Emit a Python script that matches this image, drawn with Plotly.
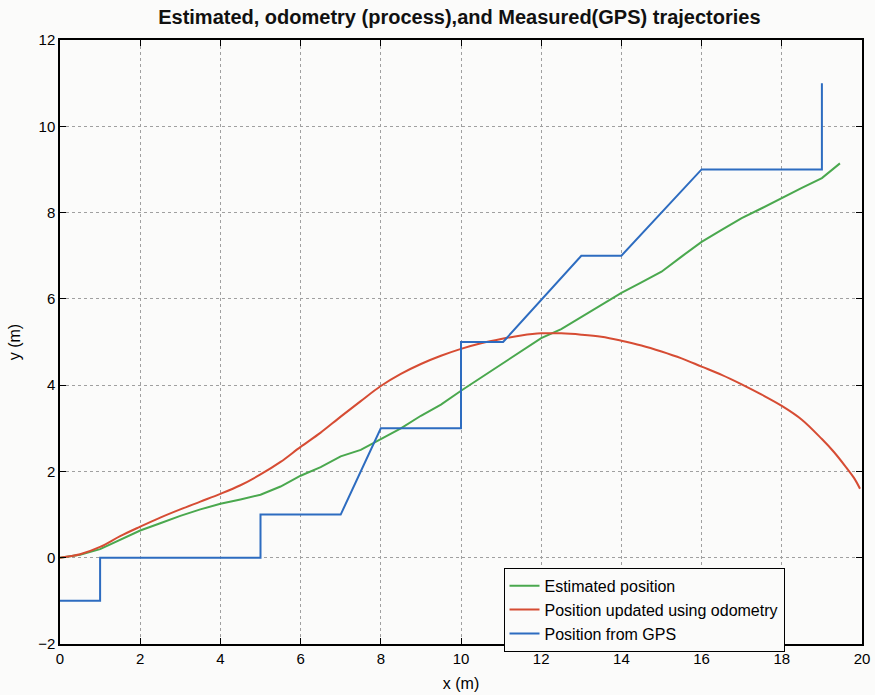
import plotly.graph_objects as go

# Estimated position (green)
est_x = [0, 0.5, 1, 1.5, 2, 2.5, 3, 3.5, 4, 4.5, 5, 5.5, 6, 6.5, 7, 7.5, 8, 8.5, 9, 9.5, 10, 10.5, 11, 11.5, 12, 12.5, 13, 13.5, 14, 14.5, 15, 15.5, 16, 16.5, 17, 17.5, 18, 18.5, 19, 19.2, 19.45]
est_y = [0, 0.07, 0.2, 0.42, 0.63, 0.8, 0.97, 1.12, 1.25, 1.35, 1.46, 1.65, 1.9, 2.1, 2.35, 2.5, 2.75, 3.0, 3.29, 3.55, 3.87, 4.17, 4.49, 4.78, 5.09, 5.3, 5.58, 5.87, 6.14, 6.38, 6.63, 6.98, 7.32, 7.6, 7.87, 8.1, 8.34, 8.57, 8.8, 8.95, 9.14]

# Position updated using odometry (red)
odo_x = [0, 0.5, 1, 1.5, 2, 2.5, 3, 3.5, 4, 4.5, 5, 5.5, 6, 6.5, 7, 7.5, 8, 8.5, 9, 9.5, 10, 10.5, 11, 11.5, 12, 12.5, 13, 13.5, 14, 14.5, 15, 15.5, 16, 16.5, 17, 17.5, 18, 18.5, 19, 19.3, 19.6, 19.8, 19.95]
odo_y = [0, 0.08, 0.25, 0.5, 0.72, 0.93, 1.12, 1.3, 1.48, 1.68, 1.93, 2.22, 2.57, 2.9, 3.27, 3.63, 3.98, 4.26, 4.49, 4.68, 4.84, 4.97, 5.07, 5.15, 5.2, 5.2, 5.17, 5.12, 5.03, 4.92, 4.78, 4.62, 4.43, 4.24, 4.02, 3.78, 3.52, 3.2, 2.75, 2.45, 2.1, 1.85, 1.6]

# Position from GPS (blue)
gps_x = [0, 1, 1, 5, 5, 7, 8, 10, 10, 11.05, 13, 14, 16, 19, 19]
gps_y = [-1, -1, 0, 0, 1, 1, 3, 3, 5, 5, 7, 7, 9, 9, 11]

x_ticks = [0, 2, 4, 6, 8, 10, 12, 14, 16, 18, 20]
y_ticks = [-2, 0, 2, 4, 6, 8, 10, 12]

FONT = "Liberation Sans"

fig = go.Figure()
fig.add_trace(go.Scatter(x=est_x, y=est_y, mode="lines", name="Estimated position",
                         line=dict(color="#4aa84e", width=2)))
fig.add_trace(go.Scatter(x=odo_x, y=odo_y, mode="lines", name="Position updated using odometry",
                         line=dict(color="#d64c33", width=2), line_shape="spline"))
fig.add_trace(go.Scatter(x=gps_x, y=gps_y, mode="lines", name="Position from GPS",
                         line=dict(color="#2d6cc0", width=2)))

axis_common = dict(
    showgrid=True, gridcolor="#a0a0a0", griddash="dot", gridwidth=1,
    showline=True, linecolor="black", linewidth=1.5, mirror="ticks",
    ticks="inside", ticklen=6, tickcolor="black", zeroline=False,
    automargin=False,
    tickfont=dict(family=FONT, size=15, color="black"),
)

fig.update_layout(
    width=875, height=695,
    margin=dict(l=60, r=13, t=40, b=51),
    paper_bgcolor="#fbfbfa", plot_bgcolor="#fbfbfa",
    title=dict(text="<b>Estimated, odometry (process),and Measured(GPS) trajectories</b>",
               x=0.525, xanchor="center", y=0.975, yanchor="middle",
               font=dict(family=FONT, size=20, color="#111111")),
    xaxis=dict(range=[0, 20], tickvals=x_ticks, title=dict(text="x (m)", standoff=12,
               font=dict(family=FONT, size=16, color="black")), **axis_common),
    yaxis=dict(range=[-2, 12], tickvals=y_ticks, title=dict(text="y (m)", standoff=14,
               font=dict(family=FONT, size=16, color="black")), **axis_common),
    legend=dict(x=0.553, y=0.126, xanchor="left", yanchor="top",
                bgcolor="#fbfbfa", bordercolor="black", borderwidth=1,
                font=dict(family=FONT, size=16, color="black"),
                tracegroupgap=0),
    showlegend=True,
)

fig.write_html("out.html")
